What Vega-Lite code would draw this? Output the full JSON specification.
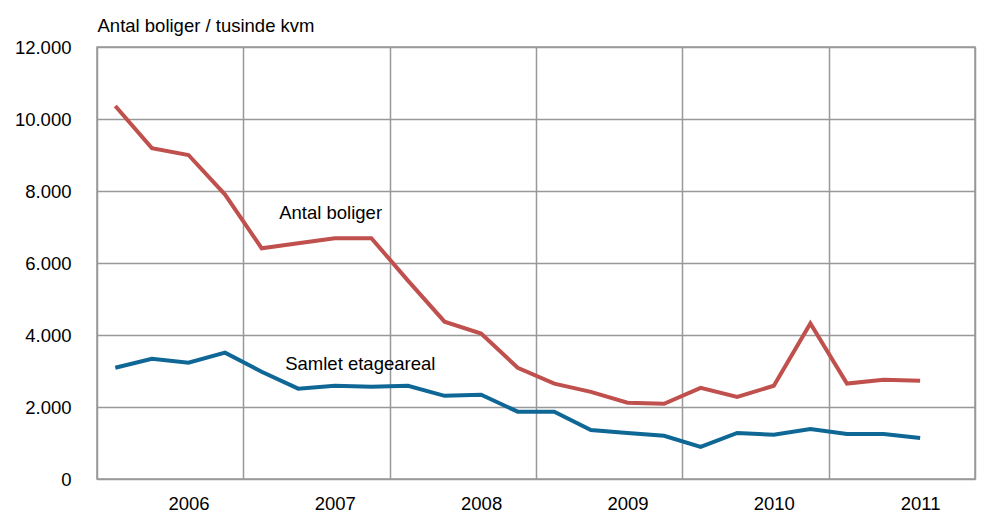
{
  "$schema": "https://vega.github.io/schema/vega-lite/v6.json",
  "width": 878,
  "height": 432,
  "autosize": {"type": "none"},
  "padding": {"left": 97, "top": 47, "right": 25, "bottom": 38},
  "background": "white",
  "config": {
    "view": {"stroke": "#999999", "strokeWidth": 1.5},
    "font": "Liberation Sans"
  },
  "data": {
    "values": [
      {"t": 2006.125, "serie": "Antal boliger", "v": 10360},
      {"t": 2006.375, "serie": "Antal boliger", "v": 9190},
      {"t": 2006.625, "serie": "Antal boliger", "v": 9000},
      {"t": 2006.875, "serie": "Antal boliger", "v": 7900},
      {"t": 2007.125, "serie": "Antal boliger", "v": 6410},
      {"t": 2007.375, "serie": "Antal boliger", "v": 6550},
      {"t": 2007.625, "serie": "Antal boliger", "v": 6690},
      {"t": 2007.875, "serie": "Antal boliger", "v": 6690},
      {"t": 2008.125, "serie": "Antal boliger", "v": 5510},
      {"t": 2008.375, "serie": "Antal boliger", "v": 4370},
      {"t": 2008.625, "serie": "Antal boliger", "v": 4040},
      {"t": 2008.875, "serie": "Antal boliger", "v": 3090},
      {"t": 2009.125, "serie": "Antal boliger", "v": 2650},
      {"t": 2009.375, "serie": "Antal boliger", "v": 2420},
      {"t": 2009.625, "serie": "Antal boliger", "v": 2120},
      {"t": 2009.875, "serie": "Antal boliger", "v": 2090},
      {"t": 2010.125, "serie": "Antal boliger", "v": 2530},
      {"t": 2010.375, "serie": "Antal boliger", "v": 2280},
      {"t": 2010.625, "serie": "Antal boliger", "v": 2590},
      {"t": 2010.875, "serie": "Antal boliger", "v": 4320},
      {"t": 2011.125, "serie": "Antal boliger", "v": 2650},
      {"t": 2011.375, "serie": "Antal boliger", "v": 2760},
      {"t": 2011.625, "serie": "Antal boliger", "v": 2730},
      {"t": 2006.125, "serie": "Samlet etageareal", "v": 3090},
      {"t": 2006.375, "serie": "Samlet etageareal", "v": 3340},
      {"t": 2006.625, "serie": "Samlet etageareal", "v": 3230},
      {"t": 2006.875, "serie": "Samlet etageareal", "v": 3510},
      {"t": 2007.125, "serie": "Samlet etageareal", "v": 2980},
      {"t": 2007.375, "serie": "Samlet etageareal", "v": 2510},
      {"t": 2007.625, "serie": "Samlet etageareal", "v": 2590},
      {"t": 2007.875, "serie": "Samlet etageareal", "v": 2560},
      {"t": 2008.125, "serie": "Samlet etageareal", "v": 2590},
      {"t": 2008.375, "serie": "Samlet etageareal", "v": 2310},
      {"t": 2008.625, "serie": "Samlet etageareal", "v": 2340},
      {"t": 2008.875, "serie": "Samlet etageareal", "v": 1870},
      {"t": 2009.125, "serie": "Samlet etageareal", "v": 1870},
      {"t": 2009.375, "serie": "Samlet etageareal", "v": 1360},
      {"t": 2009.625, "serie": "Samlet etageareal", "v": 1280},
      {"t": 2009.875, "serie": "Samlet etageareal", "v": 1200},
      {"t": 2010.125, "serie": "Samlet etageareal", "v": 890},
      {"t": 2010.375, "serie": "Samlet etageareal", "v": 1280},
      {"t": 2010.625, "serie": "Samlet etageareal", "v": 1230},
      {"t": 2010.875, "serie": "Samlet etageareal", "v": 1390},
      {"t": 2011.125, "serie": "Samlet etageareal", "v": 1250},
      {"t": 2011.375, "serie": "Samlet etageareal", "v": 1250},
      {"t": 2011.625, "serie": "Samlet etageareal", "v": 1140}
    ]
  },
  "layer": [
    {
      "mark": {"type": "line", "strokeWidth": 4},
      "encoding": {
        "x": {
          "field": "t",
          "type": "quantitative",
          "scale": {"domain": [2006, 2012], "nice": false, "zero": false},
          "axis": {
            "values": [2006, 2006.625, 2007, 2007.625, 2008, 2008.625, 2009, 2009.625, 2010, 2010.625, 2011, 2011.625, 2012],
            "grid": true,
            "gridColor": "#999999",
            "gridWidth": 1.5,
            "gridOpacity": {"condition": {"test": "datum.value % 1 === 0", "value": 1}, "value": 0},
            "ticks": false,
            "domain": false,
            "labelExpr": "datum.value % 1 === 0 ? '' : '' + floor(datum.value)",
            "labelFontSize": 18.5,
            "labelColor": "#000000",
            "labelPadding": 15,
            "labelFlush": false,
            "labelOverlap": false,
            "title": null
          }
        },
        "y": {
          "field": "v",
          "type": "quantitative",
          "scale": {"domain": [0, 12000], "nice": false},
          "axis": {
            "values": [0, 2000, 4000, 6000, 8000, 10000, 12000],
            "grid": true,
            "gridColor": "#999999",
            "gridWidth": 1.5,
            "ticks": false,
            "domain": false,
            "labelExpr": "replace(format(datum.value, ','), ',', '.')",
            "labelFontSize": 18.5,
            "labelColor": "#000000",
            "labelPadding": 26,
            "title": "Antal boliger / tusinde kvm",
            "titleAngle": 0,
            "titleX": 0,
            "titleY": -16,
            "titleAlign": "left",
            "titleBaseline": "alphabetic",
            "titleFontWeight": "normal",
            "titleFontSize": 18.5,
            "titleColor": "#000000"
          }
        },
        "color": {
          "field": "serie",
          "type": "nominal",
          "scale": {"domain": ["Antal boliger", "Samlet etageareal"], "range": ["#C0504D", "#0F6795"]},
          "legend": null
        }
      }
    },
    {
      "transform": [{"filter": "datum.t === 2007.375 && datum.serie === 'Antal boliger'"}],
      "mark": {"type": "text", "align": "left", "baseline": "middle", "dx": -19, "dy": -30, "fontSize": 18.5, "color": "#000000"},
      "encoding": {
        "x": {"field": "t", "type": "quantitative"},
        "y": {"field": "v", "type": "quantitative"},
        "text": {"field": "serie"}
      }
    },
    {
      "transform": [{"filter": "datum.t === 2007.375 && datum.serie === 'Samlet etageareal'"}],
      "mark": {"type": "text", "align": "left", "baseline": "middle", "dx": -13, "dy": -25, "fontSize": 18.5, "color": "#000000"},
      "encoding": {
        "x": {"field": "t", "type": "quantitative"},
        "y": {"field": "v", "type": "quantitative"},
        "text": {"field": "serie"}
      }
    }
  ]
}
